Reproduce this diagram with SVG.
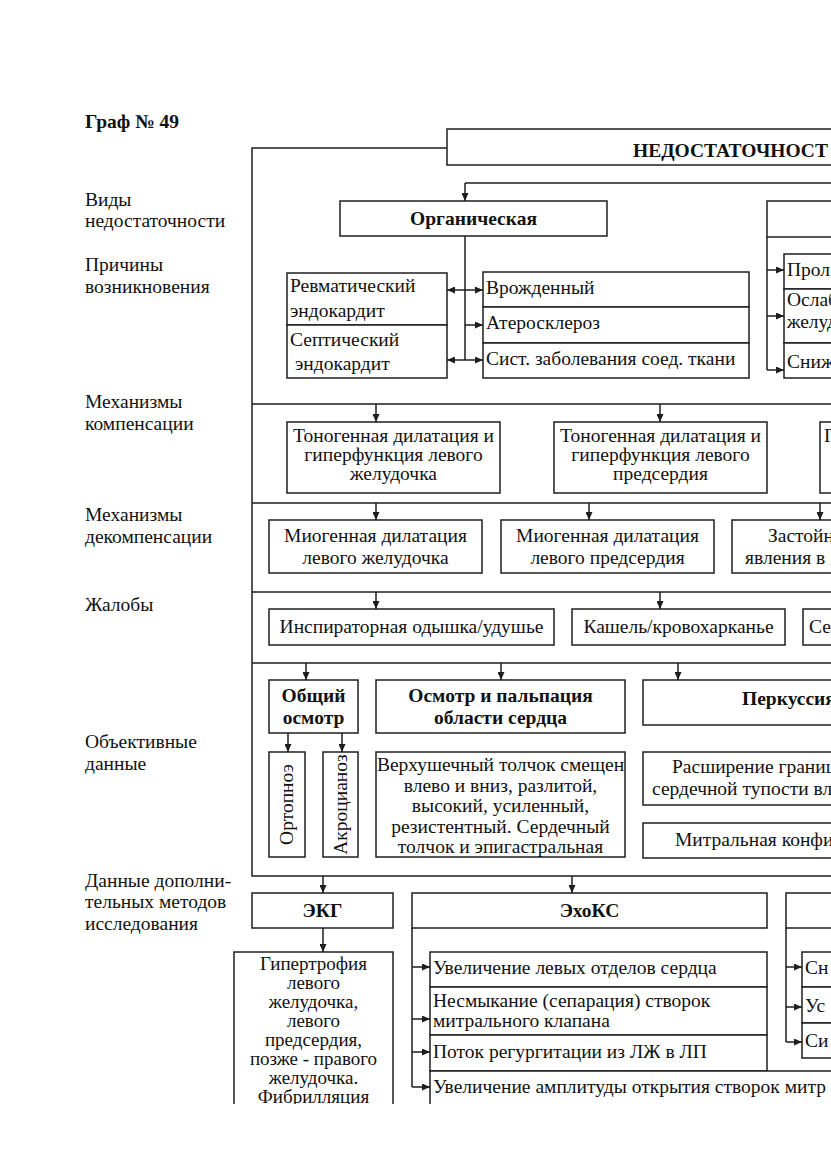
<svg xmlns="http://www.w3.org/2000/svg" width="831" height="1174" viewBox="0 0 831 1174">
<style>
.b{fill:#fff;stroke:#1e1e1e;stroke-width:1.5}
.t{font-family:"Liberation Serif","Times New Roman",serif;font-size:19.5px;fill:#111}
.s{font-size:19px}
.bd{font-weight:bold}
.c{text-anchor:middle}
.ln{fill:none;stroke:#1e1e1e;stroke-width:1.5}
.ar{fill:none;stroke:#1e1e1e;stroke-width:1.5;marker-end:url(#ah)}
</style>
<defs>
<marker id="ah" markerUnits="userSpaceOnUse" markerWidth="8" markerHeight="7" refX="8" refY="3.5" orient="auto"><path d="M0,0 L8,3.5 L0,7 z" fill="#1e1e1e"/></marker>
<clipPath id="page"><rect x="0" y="0" width="831" height="1104"/></clipPath>
</defs>
<rect x="0" y="0" width="831" height="1174" fill="#fff"/>
<g clip-path="url(#page)">
<g id="labels" class="t">
<text class="t bd" x="85" y="128">Граф № 49</text>
<text x="85" y="206">Виды</text>
<text x="85" y="227">недостаточности</text>
<text x="85" y="271">Причины</text>
<text x="85" y="293">возникновения</text>
<text x="85" y="408">Механизмы</text>
<text x="85" y="430">компенсации</text>
<text x="85" y="521">Механизмы</text>
<text x="85" y="543">декомпенсации</text>
<text x="85" y="611">Жалобы</text>
<text x="85" y="748">Объективные</text>
<text x="85" y="770">данные</text>
<text x="85" y="887">Данные дополни-</text>
<text x="85" y="908">тельных методов</text>
<text x="85" y="930">исследования</text>
</g>
<g id="connectors">
<path class="ln" d="M447,148 H252 V876 H840"/>
<path class="ln" d="M252,404 H840 M252,503 H840 M252,592 H840 M252,663 H840"/>
<path class="ln" d="M465,183 H840"/>
<path class="ar" d="M465,183 V201"/>
<path class="ln" d="M465,236 V360"/>
<path class="ar" d="M465,290 H447"/>
<path class="ar" d="M465,290 H483"/>
<path class="ar" d="M465,325 H483"/>
<path class="ar" d="M465,360 H447"/>
<path class="ar" d="M465,360 H483"/>
<path class="ln" d="M767,237 V370"/>
<path class="ar" d="M767,270 H784"/>
<path class="ar" d="M767,316 H784"/>
<path class="ar" d="M767,370 H784"/>
<path class="ar" d="M376,404 V422"/>
<path class="ar" d="M660,404 V422"/>
<path class="ar" d="M376,503 V520"/>
<path class="ar" d="M589,503 V520"/>
<path class="ar" d="M820,503 V520"/>
<path class="ar" d="M376,592 V609"/>
<path class="ar" d="M660,592 V609"/>
<path class="ar" d="M306,663 V680"/>
<path class="ar" d="M501,663 V680"/>
<path class="ar" d="M678,663 V680"/>
<path class="ar" d="M288,733 V752"/>
<path class="ar" d="M342,733 V752"/>
<path class="ar" d="M323,876 V893"/>
<path class="ar" d="M572,876 V893"/>
<path class="ar" d="M323,928 V952"/>
<path class="ln" d="M412,928 V1087"/>
<path class="ar" d="M412,967 H430"/>
<path class="ar" d="M412,1019 H430"/>
<path class="ar" d="M412,1052 H430"/>
<path class="ar" d="M412,1087 H430"/>
<path class="ln" d="M786,928 V1042"/>
<path class="ar" d="M786,967 H802"/>
<path class="ar" d="M786,1007 H802"/>
<path class="ar" d="M786,1042 H802"/>
</g>
<g id="n_title"><rect class="b" x="447" y="129" width="420" height="36"/><text class="t bd" x="633" y="157">НЕДОСТАТОЧНОСТ</text></g>
<g id="n_organic"><rect class="b" x="340" y="201" width="267" height="35"/><text class="t bd c" x="473.5" y="225">Органическая</text></g>
<g id="n_functional"><rect class="b" x="767" y="201" width="100" height="36"/></g>
<g id="n_rheum"><rect class="b" x="287" y="273" width="160" height="52"/><text class="t" x="290" y="292">Ревматический</text><text class="t" x="290" y="317">эндокардит</text></g>
<g id="n_septic"><rect class="b" x="287" y="325" width="160" height="53"/><text class="t" x="290" y="346">Септический</text><text class="t" x="295" y="370">эндокардит</text></g>
<g id="n_congenital"><rect class="b" x="483" y="272" width="266" height="35"/><text class="t" x="486" y="294">Врожденный</text></g>
<g id="n_ather"><rect class="b" x="483" y="307" width="266" height="36"/><text class="t" x="486" y="329">Атеросклероз</text></g>
<g id="n_syst"><rect class="b" x="483" y="343" width="266" height="35"/><text class="t" x="486" y="365">Сист. заболевания соед. ткани</text></g>
<g id="n_prol"><rect class="b" x="784" y="254" width="80" height="35"/><text class="t" x="787" y="276">Прол</text></g>
<g id="n_weak"><rect class="b" x="784" y="289" width="80" height="54"/><text class="t" x="787" y="306">Ослаб</text><text class="t" x="787" y="328">желуд</text></g>
<g id="n_decr"><rect class="b" x="784" y="343" width="80" height="35"/><text class="t" x="787" y="368">Сниж</text></g>
<g id="n_comp1"><rect class="b" x="287" y="422" width="213" height="71"/><text class="t c" x="393.5" y="442">Тоногенная дилатация и</text><text class="t c" x="393.5" y="461">гиперфункция левого</text><text class="t c" x="393.5" y="480">желудочка</text></g>
<g id="n_comp2"><rect class="b" x="554" y="422" width="213" height="71"/><text class="t c" x="660.5" y="442">Тоногенная дилатация и</text><text class="t c" x="660.5" y="461">гиперфункция левого</text><text class="t c" x="660.5" y="480">предсердия</text></g>
<g id="n_comp3"><rect class="b" x="820" y="422" width="60" height="71"/><text class="t" x="824" y="442">Г</text></g>
<g id="n_decomp1"><rect class="b" x="269" y="520" width="213" height="53"/><text class="t c" x="375.5" y="542">Миогенная дилатация</text><text class="t c" x="375.5" y="564">левого желудочка</text></g>
<g id="n_decomp2"><rect class="b" x="501" y="520" width="213" height="53"/><text class="t c" x="607.5" y="542">Миогенная дилатация</text><text class="t c" x="607.5" y="564">левого предсердия</text></g>
<g id="n_decomp3"><rect class="b" x="732" y="520" width="140" height="53"/><text class="t" x="768" y="542">Застойн</text><text class="t" x="745" y="564">явления в</text></g>
<g id="n_compl1"><rect class="b" x="269" y="609" width="285" height="36"/><text class="t c" x="411.5" y="633">Инспираторная одышка/удушье</text></g>
<g id="n_compl2"><rect class="b" x="572" y="609" width="213" height="36"/><text class="t c" x="678.5" y="633">Кашель/кровохарканье</text></g>
<g id="n_compl3"><rect class="b" x="803" y="609" width="60" height="36"/><text class="t" x="809" y="633">Се</text></g>
<g id="n_general"><rect class="b" x="269" y="680" width="89" height="53"/><text class="t bd c" x="313.5" y="702">Общий</text><text class="t bd c" x="313.5" y="724">осмотр</text></g>
<g id="n_palp"><rect class="b" x="376" y="680" width="249" height="53"/><text class="t bd c" x="500.5" y="702">Осмотр и пальпация</text><text class="t bd c" x="500.5" y="724">области сердца</text></g>
<g id="n_perc"><rect class="b" x="643" y="680" width="220" height="45"/><text class="t bd" x="742" y="705">Перкуссия</text></g>
<g id="n_orthopnea"><rect class="b" x="269" y="752" width="36" height="105"/><text class="t c" transform="translate(293,804.5) rotate(-90)">Ортопноэ</text></g>
<g id="n_acro"><rect class="b" x="323" y="752" width="35" height="105"/><text class="t c" transform="translate(347,804.5) rotate(-90)">Акроцианоз</text></g>
<g id="n_apex"><rect class="b" x="376" y="752" width="249" height="105"/><text class="t c" x="500.5" y="771">Верхушечный толчок смещен</text><text class="t c" x="500.5" y="791.5">влево и вниз, разлитой,</text><text class="t c" x="500.5" y="812">высокий, усиленный,</text><text class="t c" x="500.5" y="832.5">резистентный. Сердечный</text><text class="t c" x="500.5" y="853">толчок и эпигастральная</text></g>
<g id="n_borders"><rect class="b" x="643" y="752" width="220" height="53"/><text class="t" x="672" y="773">Расширение границ</text><text class="t" x="652" y="795">сердечной тупости вле</text></g>
<g id="n_mitral"><rect class="b" x="643" y="823" width="220" height="35"/><text class="t" x="675" y="846">Митральная конфи</text></g>
<g id="n_ecg"><rect class="b" x="252" y="893" width="141" height="35"/><text class="t bd c" x="322.5" y="917">ЭКГ</text></g>
<g id="n_echo"><rect class="b" x="412" y="893" width="355" height="35"/><text class="t bd c" x="589.5" y="917">ЭхоКС</text></g>
<g id="n_third"><rect class="b" x="786" y="893" width="80" height="35"/></g>
<g id="n_ecg_find"><rect class="b" x="234" y="952" width="159" height="170"/>
<text class="t s c" x="313.5" y="970">Гипертрофия</text>
<text class="t s c" x="313.5" y="989">левого</text>
<text class="t s c" x="313.5" y="1008">желудочка,</text>
<text class="t s c" x="313.5" y="1027">левого</text>
<text class="t s c" x="313.5" y="1046">предсердия,</text>
<text class="t s c" x="313.5" y="1065">позже - правого</text>
<text class="t s c" x="313.5" y="1084">желудочка.</text>
<text class="t s c" x="313.5" y="1103">Фибрилляция</text>
</g>
<g id="n_echo1"><rect class="b" x="430" y="952" width="337" height="35"/><text class="t" x="433" y="974">Увеличение левых отделов сердца</text></g>
<g id="n_echo2"><rect class="b" x="430" y="987" width="337" height="48"/><text class="t" x="433" y="1007">Несмыкание (сепарация) створок</text><text class="t" x="433" y="1027">митрального клапана</text></g>
<g id="n_echo3"><rect class="b" x="430" y="1035" width="337" height="36"/><text class="t" x="433" y="1058">Поток регургитации из ЛЖ в ЛП</text></g>
<g id="n_echo4"><rect class="b" x="430" y="1071" width="430" height="45"/><text class="t" x="433" y="1093">Увеличение амплитуды открытия створок митр</text></g>
<g id="n_r1"><rect class="b" x="802" y="952" width="60" height="35"/><text class="t" x="805" y="974">Сн</text></g>
<g id="n_r2"><rect class="b" x="802" y="987" width="60" height="36"/><text class="t" x="805" y="1012">Ус</text></g>
<g id="n_r3"><rect class="b" x="802" y="1023" width="60" height="35"/><text class="t" x="805" y="1047">Си</text></g>
</g>
</svg>
